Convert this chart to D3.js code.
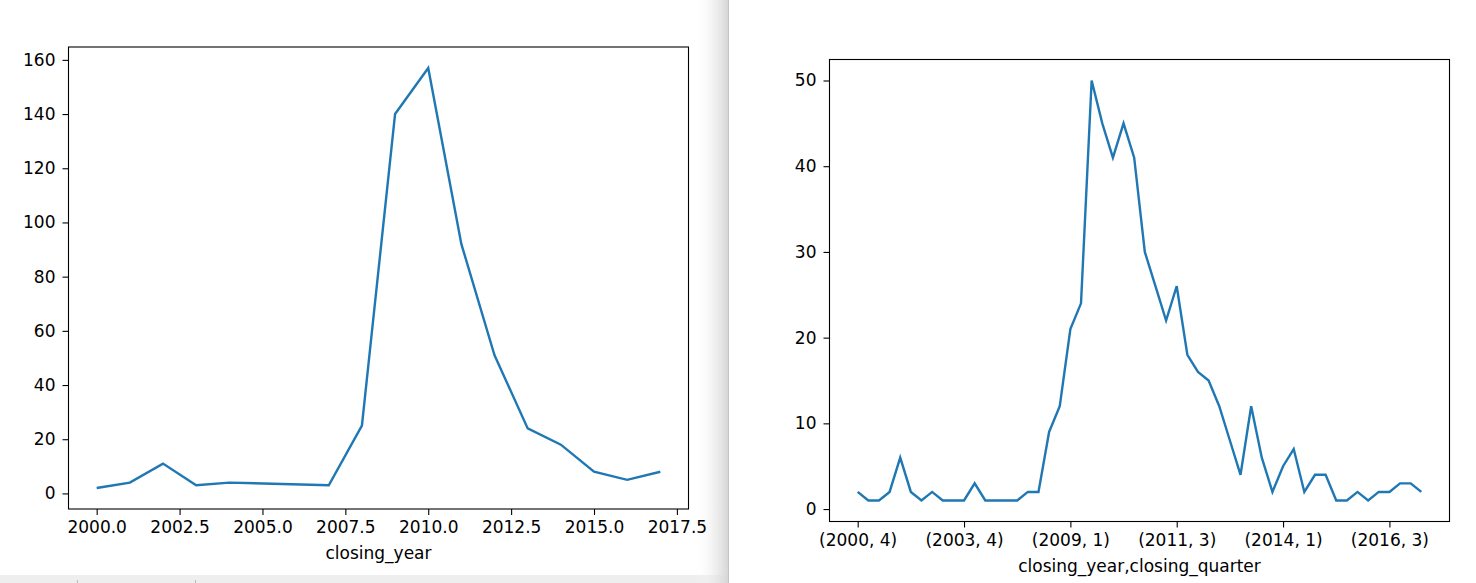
<!DOCTYPE html>
<html>
<head>
<meta charset="utf-8">
<script src="https://cdn.jsdelivr.net/npm/d3@7"></script>
<style>
  html, body { margin: 0; padding: 0; background: #fff; }
  svg { display: block; }
  text { font-family: "DejaVu Sans", sans-serif; fill: #000; }
</style>
</head>
<body>
<svg id="chart" width="1476" height="583"></svg>
<script>
// ---- data ----
const years = [2000, 2001, 2002, 2003, 2004, 2007, 2008, 2009, 2010, 2011, 2012, 2013, 2014, 2015, 2016, 2017];
const yearCounts = [2, 4, 11, 3, 4, 3, 25, 140, 157, 92, 51, 24, 18, 8, 5, 8];
const yearTicks = [2000, 2002.5, 2005, 2007.5, 2010, 2012.5, 2015, 2017.5];
const yearYTicks = [0, 20, 40, 60, 80, 100, 120, 140, 160];

const quarterYears = [2000, 2001, 2001, 2001, 2002, 2002, 2002, 2002, 2003, 2003, 2003, 2004, 2004,
  2007, 2007, 2007, 2008, 2008, 2008, 2008, 2009, 2009, 2009, 2009, 2010, 2010, 2010, 2010,
  2011, 2011, 2011, 2011, 2012, 2012, 2012, 2012, 2013, 2013, 2013, 2013, 2014, 2014, 2014, 2014,
  2015, 2015, 2015, 2015, 2016, 2016, 2016, 2016, 2017, 2017];
const quarterNums = [4, 1, 2, 3, 1, 2, 3, 4, 2, 3, 4, 1, 2,
  2, 3, 4, 1, 2, 3, 4, 1, 2, 3, 4, 1, 2, 3, 4,
  1, 2, 3, 4, 1, 2, 3, 4, 1, 2, 3, 4, 1, 2, 3, 4,
  1, 2, 3, 4, 1, 2, 3, 4, 1, 2];
const quarterCounts = [2, 1, 1, 2, 6, 2, 1, 2, 1, 1, 1, 3, 1,
  1, 1, 1, 2, 2, 9, 12, 21, 24, 50, 45, 41, 45, 41, 30,
  26, 22, 26, 18, 16, 15, 12, 8, 4, 12, 6, 2, 5, 7, 2, 4,
  4, 1, 1, 2, 1, 2, 2, 3, 3, 2];
const quarterTickIdx = [0, 10, 20, 30, 40, 50];
const quarterYTicks = [0, 10, 20, 30, 40, 50];

const LINE = "#1f77b4";
const FS = 17;

const svg = d3.select("#chart");

// ---- notebook background decorations ----
const defs = svg.append("defs");
const grad = defs.append("linearGradient").attr("id", "shade").attr("x1", "0").attr("x2", "1");
grad.append("stop").attr("offset", "0").attr("stop-color", "#ffffff").attr("stop-opacity", 0);
grad.append("stop").attr("offset", "1").attr("stop-color", "#d6d6d6").attr("stop-opacity", 1);
svg.append("rect").attr("x", 0).attr("y", 575).attr("width", 728).attr("height", 8).attr("fill", "#eeeeee");
svg.append("line").attr("x1", 77.5).attr("x2", 77.5).attr("y1", 580).attr("y2", 583).attr("stroke", "#bbb");
svg.append("line").attr("x1", 195.5).attr("x2", 195.5).attr("y1", 580).attr("y2", 583).attr("stroke", "#bbb");
svg.append("rect").attr("x", 694).attr("y", 0).attr("width", 34).attr("height", 583).attr("fill", "url(#shade)");
svg.append("line").attr("x1", 728.5).attr("x2", 728.5).attr("y1", 0).attr("y2", 583).attr("stroke", "#c4c4c4");

function drawPanel(opt) {
  const g = svg.append("g");
  const { x, y, xs, ys, xTicks, xFmt, yTicks, xLabel, box } = opt;

  // line
  const line = d3.line().x(d => x(d[0])).y(d => y(d[1]));
  g.append("path")
    .datum(d3.zip(xs, ys))
    .attr("d", line)
    .attr("fill", "none")
    .attr("stroke", LINE)
    .attr("stroke-width", 2.4)
    .attr("stroke-linejoin", "miter")
    .attr("stroke-linecap", "butt");

  // axes
  const xAxis = d3.axisBottom(x).tickValues(xTicks).tickFormat(xFmt).tickSize(6).tickPadding(6).tickSizeOuter(0);
  const yAxis = d3.axisLeft(y).tickValues(yTicks).tickFormat(d3.format("d")).tickSize(6).tickPadding(7).tickSizeOuter(0);
  const gx = g.append("g").attr("transform", `translate(0,${box.y1})`).call(xAxis);
  const gy = g.append("g").attr("transform", `translate(${box.x0},0)`).call(yAxis);
  [gx, gy].forEach(a => {
    a.select(".domain").remove();
    a.selectAll(".tick line").attr("stroke", "#000").attr("stroke-width", 1.1);
    a.selectAll(".tick text").style("font-size", FS + "px").style("font-family", "DejaVu Sans").attr("fill", "#000");
  });

  // frame
  g.append("rect")
    .attr("x", box.x0).attr("y", box.y0)
    .attr("width", box.x1 - box.x0).attr("height", box.y1 - box.y0)
    .attr("fill", "none").attr("stroke", "#000").attr("stroke-width", 1.1);

  g.append("text")
    .attr("x", (box.x0 + box.x1) / 2)
    .attr("y", box.y1 + 50)
    .attr("text-anchor", "middle")
    .style("font-size", FS + "px")
    .text(xLabel);
}

// ---- left panel: by year ----
{
  const box = { x0: 68.5, x1: 688.5, y0: 47, y1: 509 };
  const x = d3.scaleLinear().domain([1999.15, 2017.85]).range([box.x0, box.x1]);
  const y = d3.scaleLinear().domain([-5.75, 164.75]).range([box.y1, box.y0]);
  drawPanel({
    x, y, xs: years, ys: yearCounts, xTicks: yearTicks,
    xFmt: d3.format(".1f"), yTicks: yearYTicks, xLabel: "closing_year", box
  });
}

// ---- right panel: by year & quarter ----
{
  const box = { x0: 829.5, x1: 1449.5, y0: 59.5, y1: 521.5 };
  const idx = d3.range(quarterCounts.length);
  const x = d3.scaleLinear().domain([-2.65, idx.length - 1 + 2.65]).range([box.x0, box.x1]);
  const y = d3.scaleLinear().domain([-1.45, 52.45]).range([box.y1, box.y0]);
  drawPanel({
    x, y, xs: idx, ys: quarterCounts, xTicks: quarterTickIdx,
    xFmt: i => `(${quarterYears[i]}, ${quarterNums[i]})`,
    yTicks: quarterYTicks, xLabel: "closing_year,closing_quarter", box
  });
}
</script>
</body>
</html>
